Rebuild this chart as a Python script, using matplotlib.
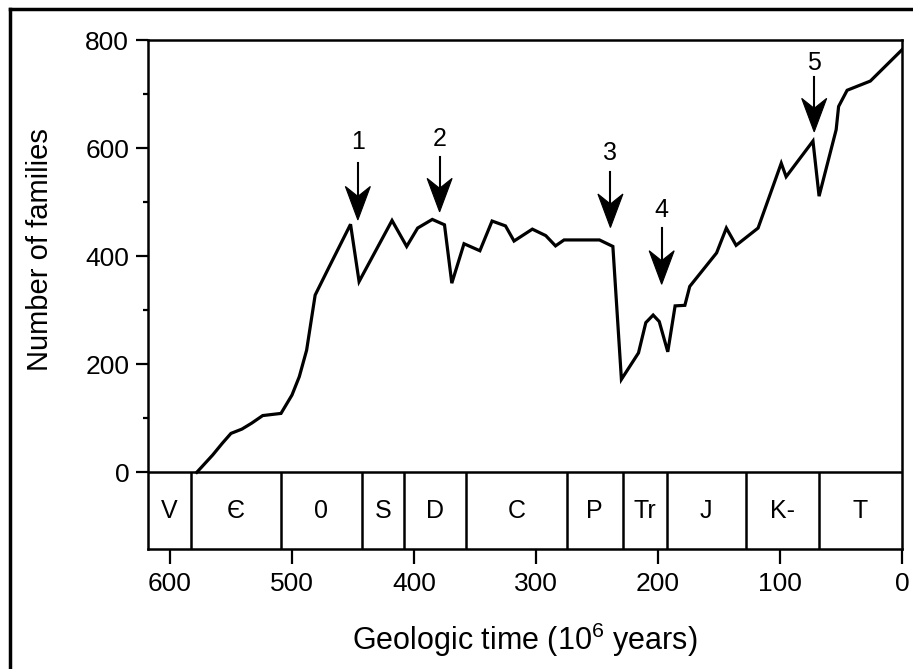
# Number of marine families through geologic time, with the five mass extinctions
import matplotlib
matplotlib.use("Agg")
import matplotlib.pyplot as plt
from matplotlib.lines import Line2D
from matplotlib.patches import Polygon
from matplotlib.transforms import ScaledTranslation

plt.rcParams['font.family'] = ['Liberation Sans', 'DejaVu Sans']
plt.rcParams['mathtext.fontset'] = 'custom'
plt.rcParams['mathtext.rm'] = 'Liberation Sans'
plt.rcParams['mathtext.it'] = 'Liberation Sans'

# curve: age (Myr ago) and number of families
ages = [578, 565, 557, 550, 541, 533, 524, 509, 500, 494, 488, 481, 470, 452,
        445, 418, 406, 397, 385, 375, 369, 359, 346, 336, 325, 318, 303, 292,
        284, 277, 248, 237, 230, 216, 210, 204, 199, 192, 186, 178, 174, 152,
        144, 136, 118, 99, 95, 73, 68, 54, 52, 45, 26, 0]
families = [0, 32, 54, 72, 80, 91, 105, 109, 143, 177, 226, 328, 378, 459,
            353, 466, 418, 452, 468, 458, 350, 423, 410, 465, 456, 428, 450, 438,
            419, 430, 430, 418, 172, 221, 277, 291, 279, 223, 308, 309, 344, 406,
            452, 420, 452, 572, 547, 613, 511, 634, 677, 707, 724, 782]

# geologic periods strip
period_edges = [618, 583, 509, 443, 408, 357, 275, 229, 193, 128, 68, 0]
period_names = ['V', 'Є', '0', 'S', 'D', 'C', 'P', 'Tr', 'J', 'K-', 'T']

# extinction arrows: age, tip, tail, label
arrow_ages = [446, 379, 239, 197, 72]
arrow_tips = [467, 482, 453, 348, 630]
arrow_tails = [573, 584, 556, 452, 731]
arrow_label_y = [612, 616, 590, 485, 758]
arrow_labels = ['1', '2', '3', '4', '5']

strip_bottom = -142.5

fig = plt.figure(figsize=(9.13, 6.69), dpi=100)
ax = fig.add_axes([0.1621, 0.1789, 0.8259, 0.7613])

ax.plot(ages, families, color='black', lw=2.3, solid_joinstyle='miter')

# strip
ax.axhline(0, color='black', lw=1.8)
ax.vlines(period_edges[1:-1], strip_bottom, 0, color='black', lw=1.8)
for i, name in enumerate(period_names):
    mid = (period_edges[i] + period_edges[i + 1]) / 2
    ax.text(mid, strip_bottom / 2, name, ha='center', va='center', fontsize=18)

# arrows with barbed heads (head drawn in inches from the tip)
head = [(0, 0), (0.125, 0.335), (0, 0.235), (-0.125, 0.335)]
for a, tip, tail, lab, ly in zip(arrow_ages, arrow_tips, arrow_tails, arrow_labels, arrow_label_y):
    ax.plot([a, a], [tip + 40, tail], color='black', lw=1.5)
    tr = fig.dpi_scale_trans + ScaledTranslation(a, tip, ax.transData)
    ax.add_patch(Polygon(head, closed=True, facecolor='black', edgecolor='black',
                         lw=0.8, transform=tr))
    ax.text(a, ly, lab, ha='center', va='center', fontsize=18)

ax.set_xlim(618, 0)
ax.set_ylim(strip_bottom, 800)
ax.set_xticks([600, 500, 400, 300, 200, 100, 0])
ax.set_yticks([0, 200, 400, 600, 800])
ax.set_yticks([100, 300, 500, 700], minor=True)

for s in ax.spines.values():
    s.set_linewidth(1.8)
ax.tick_params(axis='x', length=11, width=1.6, pad=5, labelsize=19)
ax.tick_params(axis='y', which='major', length=8.5, width=1.6, pad=5, labelsize=19)
ax.tick_params(axis='y', which='minor', length=3.5, width=1.6)

ax.set_ylabel('Number of families', fontsize=21)
ax.yaxis.set_label_coords(-0.125, 0.588)
ax.set_xlabel('Geologic time (10$^{6}$ years)', fontsize=22)
ax.xaxis.set_label_coords(0.5, -0.14)

# outer frame (left and top edges)
fig.add_artist(Line2D([0.0115, 0.0115], [0, 0.987], transform=fig.transFigure, color='black', lw=2.5))
fig.add_artist(Line2D([0.0115, 1.0], [0.987, 0.987], transform=fig.transFigure, color='black', lw=2.5))

fig.savefig('out.png', dpi=100)
